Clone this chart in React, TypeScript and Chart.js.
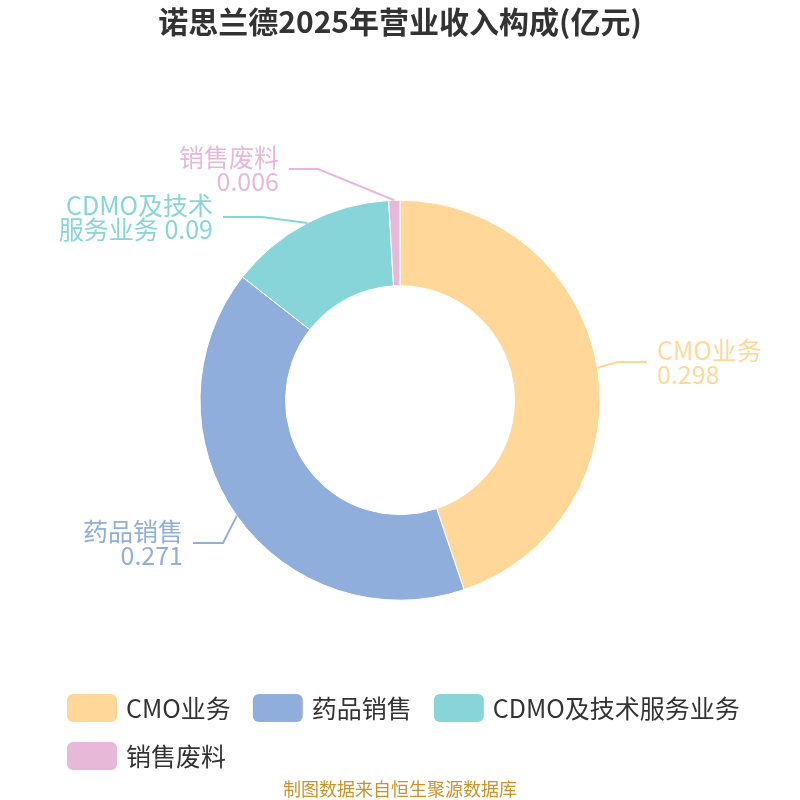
import { useEffect, useRef } from "react"
import { Chart, registerables } from "chart.js"

Chart.register(...registerables)

const categories = ["CMO业务", "药品销售", "CDMO及技术服务业务", "销售废料"]
const values = [0.298, 0.271, 0.09, 0.006]
const colors = ["#FFD899", "#8FAEDB", "#87D5D8", "#E8B8D8"]
// how each outside label is written (line breaks as in the picture)
const labelLines = [
  ["CMO业务", "0.298"],
  ["药品销售", "0.271"],
  ["CDMO及技术", "服务业务 0.09"],
  ["销售废料", "0.006"],
]

const FONT = '"Noto Sans CJK SC", "Noto Sans", sans-serif'

// elbow of each leader line and where its horizontal part ends
const labelLayout = [
  { ex: 618, ey: 362, hx: 647 },
  { ex: 223, ey: 543, hx: 193 },
  { ex: 262, ey: 217, hx: 223 },
  { ex: 318, ey: 169, hx: 289 },
]

const outsideLabels = {
  id: "outsideLabels",
  afterDatasetsDraw(chart: Chart) {
    const ctx = chart.ctx
    const meta = chart.getDatasetMeta(0)
    ctx.save()
    meta.data.forEach((arc: any, i: number) => {
      const { x, y, startAngle, endAngle, outerRadius } = arc.getProps(
        ["x", "y", "startAngle", "endAngle", "outerRadius"],
        true
      )
      const mid = (startAngle + endAngle) / 2
      const sx = x + Math.cos(mid) * outerRadius
      const sy = y + Math.sin(mid) * outerRadius
      const l = labelLayout[i]
      ctx.strokeStyle = colors[i]
      ctx.lineWidth = 2
      ctx.beginPath()
      ctx.moveTo(sx, sy)
      ctx.lineTo(l.ex, l.ey)
      ctx.lineTo(l.hx, l.ey)
      ctx.stroke()
      const right = l.hx > l.ex
      ctx.fillStyle = colors[i]
      ctx.font = `25px ${FONT}`
      ctx.textAlign = right ? "left" : "right"
      ctx.textBaseline = "middle"
      const tx = right ? l.hx + 10 : l.hx - 10
      const lines = labelLines[i]
      lines.forEach((t, k) => {
        ctx.fillText(t, tx, l.ey - 12 + k * 24)
      })
    })
    ctx.restore()
  },
}

const bottomLegend = {
  id: "bottomLegend",
  afterDraw(chart: Chart) {
    const ctx = chart.ctx
    ctx.save()
    ctx.font = `25px ${FONT}`
    ctx.textBaseline = "middle"
    ctx.textAlign = "left"
    const left = 67
    const maxRight = 745
    const boxW = 50
    const boxH = 28
    let x = left
    let y = 708
    categories.forEach((name, i) => {
      const w = boxW + 9 + ctx.measureText(name).width
      if (x + w > maxRight) {
        x = left
        y += 48
      }
      ctx.fillStyle = colors[i]
      ctx.beginPath()
      ctx.roundRect(x, y - boxH / 2, boxW, boxH, 6)
      ctx.fill()
      ctx.fillStyle = "#333"
      ctx.fillText(name, x + boxW + 9, y)
      x += w + 22
    })
    ctx.restore()
  },
}

export default function App() {
  const chartRef = useRef<HTMLCanvasElement>(null)
  const chartInstance = useRef<Chart | null>(null)

  useEffect(() => {
    if (!chartRef.current) return
    if (chartInstance.current) chartInstance.current.destroy()
    const ctx = chartRef.current.getContext("2d")
    if (!ctx) return

    chartInstance.current = new Chart(ctx, {
      type: "doughnut",
      data: {
        labels: categories,
        datasets: [
          {
            data: values,
            backgroundColor: colors,
            borderColor: "#fff",
            borderWidth: 1,
            radius: 200,
            cutout: 120,
          } as any,
        ],
      },
      options: {
        animation: false,
        responsive: false,
        layout: { padding: 0 },
        plugins: {
          legend: { display: false },
          tooltip: { enabled: false },
          title: {
            display: true,
            text: "诺思兰德2025年营业收入构成(亿元)",
            color: "#333",
            font: { family: FONT, size: 30, weight: "bold" },
            padding: { top: 4, bottom: 150 },
          },
          subtitle: {
            display: true,
            position: "bottom",
            text: "制图数据来自恒生聚源数据库",
            color: "#C9922A",
            font: { family: FONT, size: 18 },
            padding: { top: 168, bottom: 0 },
          },
        },
      },
      plugins: [outsideLabels, bottomLegend],
    })

    return () => {
      if (chartInstance.current) {
        chartInstance.current.destroy()
        chartInstance.current = null
      }
    }
  }, [])

  return (
    <div style={{ position: "fixed", left: 0, top: 0, width: 800, height: 800, background: "#fff" }}>
      <canvas ref={chartRef} width={800} height={800} style={{ width: 800, height: 800 }} />
    </div>
  )
}
